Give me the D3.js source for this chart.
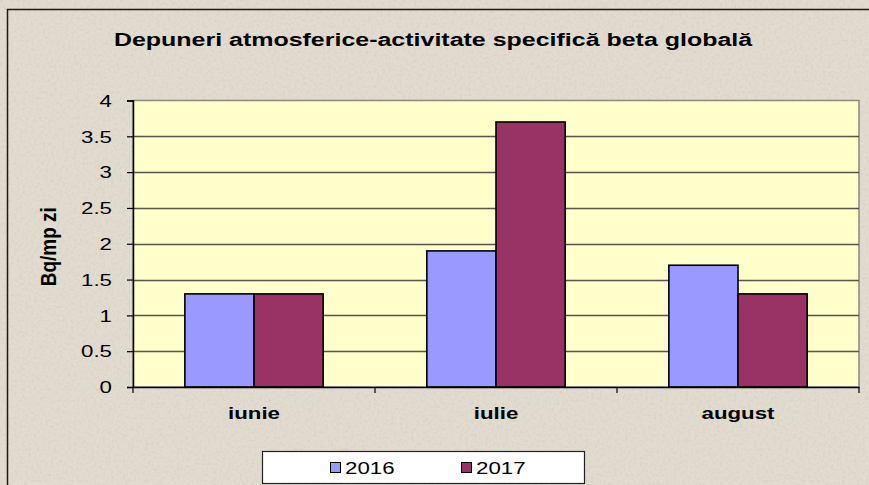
<!DOCTYPE html>
<html>
<head>
<meta charset="utf-8">
<script src="https://cdn.jsdelivr.net/npm/d3@7"></script>
<style>
  html, body { margin: 0; padding: 0; background: #e2dbcf; }
  svg { display: block; }
</style>
</head>
<body>
<svg id="chart" width="869" height="485"></svg>
<script>
// ---- data ----
const categories = ["iunie", "iulie", "august"];
const seriesNames = ["2016", "2017"];
const values2016 = [1.3, 1.9, 1.7];
const values2017 = [1.3, 3.7, 1.3];
const yTicks = [0, 0.5, 1, 1.5, 2, 2.5, 3, 3.5, 4];
const seriesColors = ["#9999FF", "#993366"];
const titleText = "Depuneri atmosferice-activitate specifică beta globală";
const yTitle = "Bq/mp zi";

const svg = d3.select("#chart");
const W = 869, H = 485;
const font = "Liberation Sans, Arial, sans-serif";
const sx = 1.35; // horizontal stretch of text seen in the reference

// background with subtle texture
const defs = svg.append("defs");
const filt = defs.append("filter").attr("id", "noise").attr("x", 0).attr("y", 0).attr("width", "100%").attr("height", "100%");
filt.append("feTurbulence").attr("type", "fractalNoise").attr("baseFrequency", 0.35).attr("numOctaves", 2).attr("seed", 4).attr("result", "t");
filt.append("feColorMatrix").attr("in", "t").attr("type", "matrix")
  .attr("values", "0 0 0 0 0.55  0 0 0 0 0.50  0 0 0 0 0.44  0 0 0 -2.2 1.25");
svg.append("rect").attr("width", W).attr("height", H).attr("fill", "#e2dbcf");
svg.append("rect").attr("width", W).attr("height", H).attr("filter", "url(#noise)").attr("opacity", 0.3);

// outer frame
svg.append("rect").attr("x", 7.5).attr("y", 9.5).attr("width", W + 10).attr("height", H + 10)
  .attr("fill", "none").attr("stroke", "#1a1a1a").attr("stroke-width", 1.5);

// plot area
const plot = { left: 133, top: 100.5, right: 859, bottom: 387 };

const x0 = d3.scaleBand().domain(categories).range([plot.left, plot.right]).paddingInner(0).paddingOuter(0);
const x1 = d3.scaleBand().domain(seriesNames).range([0, x0.bandwidth()]).paddingInner(0)
  .paddingOuter(0.75);
const y = d3.scaleLinear().domain([0, 4]).range([plot.bottom, plot.top]);

svg.append("rect").attr("x", plot.left).attr("y", plot.top)
  .attr("width", plot.right - plot.left).attr("height", plot.bottom - plot.top)
  .attr("fill", "#FFFFCC").attr("stroke", "#8a897c").attr("stroke-width", 1.5);

// gridlines
svg.append("g").selectAll("line").data(yTicks.filter(t => t > 0 && t < 4)).join("line")
  .attr("x1", plot.left).attr("x2", plot.right)
  .attr("y1", d => Math.round(y(d)) + 0.5).attr("y2", d => Math.round(y(d)) + 0.5)
  .attr("stroke", "#55554a").attr("stroke-width", 1.3);

// bars
const data = categories.map((c, i) => ({ cat: c, vals: [values2016[i], values2017[i]] }));
const groups = svg.append("g").selectAll("g").data(data).join("g")
  .attr("transform", d => `translate(${x0(d.cat)},0)`);
groups.selectAll("rect").data(d => d.vals.map((v, j) => ({ name: seriesNames[j], v, j }))).join("rect")
  .attr("x", d => x1(d.name))
  .attr("y", d => y(d.v))
  .attr("width", x1.bandwidth())
  .attr("height", d => y(0) - y(d.v))
  .attr("fill", d => seriesColors[d.j])
  .attr("stroke", "#000").attr("stroke-width", 1.6);

// y axis
const yAxis = d3.axisLeft(y).tickValues(yTicks).tickSize(6).tickPadding(21).tickFormat(d3.format("~g"));
const gy = svg.append("g").attr("transform", `translate(${plot.left},0)`).call(yAxis);
gy.select(".domain").attr("stroke", "#000").attr("stroke-width", 1.5);
gy.selectAll(".tick line").attr("stroke", "#000").attr("stroke-width", 1.2);
gy.selectAll(".tick text").attr("font-family", font).attr("font-size", 16.5).attr("fill", "#000")
  .attr("dy", "0.35em").attr("x", -21 / sx).attr("transform", `scale(${sx},1)`);

// x axis
const xAxis = d3.axisBottom(x0).tickSize(0).tickPadding(20);
const gx = svg.append("g").attr("transform", `translate(0,${plot.bottom})`).call(xAxis);
gx.select(".domain").attr("stroke", "#000").attr("stroke-width", 1.5);
gx.selectAll(".tick text").attr("font-family", font).attr("font-size", 16.5)
  .attr("font-weight", "bold").attr("fill", "#000").attr("transform", `scale(${sx},1)`);
// category boundary ticks
const bounds = categories.map(c => x0(c)).concat([x0(categories[categories.length - 1]) + x0.bandwidth()]);
svg.append("g").selectAll("line").data(bounds).join("line")
  .attr("x1", d => d).attr("x2", d => d)
  .attr("y1", plot.bottom).attr("y2", plot.bottom + 6)
  .attr("stroke", "#000").attr("stroke-width", 1.2);

// title
svg.append("text").attr("transform", `translate(433,46) scale(${sx},1)`).attr("text-anchor", "middle")
  .attr("font-family", font).attr("font-size", 18.5).attr("font-weight", "bold").attr("fill", "#000")
  .text(titleText);

// y title
svg.append("text").attr("transform", `translate(56,${(plot.top + plot.bottom) / 2 + 3}) scale(1.15,1) rotate(-90)`)
  .attr("text-anchor", "middle").attr("font-family", font).attr("font-size", 19)
  .attr("font-weight", "bold").attr("fill", "#000").text(yTitle);

// legend
const leg = svg.append("g");
leg.append("rect").attr("x", 262.5).attr("y", 451.5).attr("width", 322).attr("height", 32)
  .attr("fill", "#fff").attr("stroke", "#222").attr("stroke-width", 1.2);
const legX = [330, 461];
seriesNames.forEach((n, i) => {
  leg.append("rect").attr("x", legX[i] + 0.5).attr("y", 462.5).attr("width", 10).attr("height", 10)
    .attr("fill", seriesColors[i]).attr("stroke", "#000").attr("stroke-width", 1);
  leg.append("text").attr("transform", `translate(${legX[i] + 15},474) scale(${sx},1)`)
    .attr("font-family", font).attr("font-size", 16.5).attr("fill", "#000").text(n);
});
</script>
</body>
</html>
